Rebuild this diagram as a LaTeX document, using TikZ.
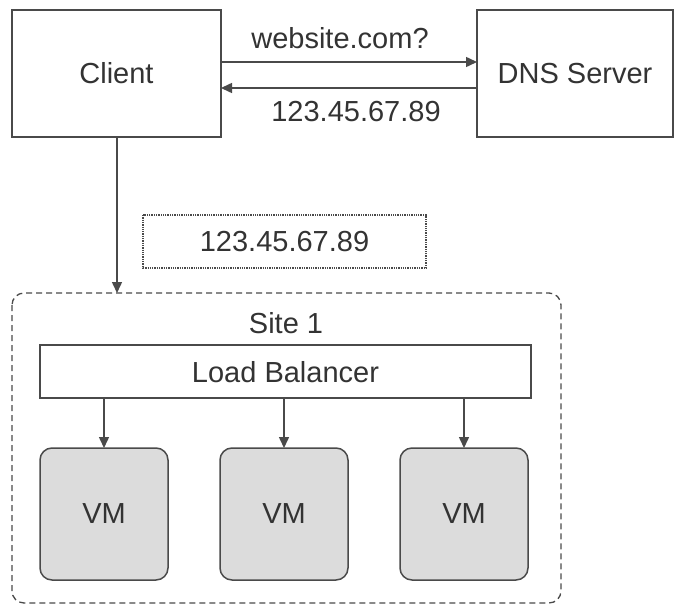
\documentclass[tikz,border=0pt]{standalone}
\usepackage{fontspec}
\setmainfont{Liberation Sans}
\usetikzlibrary{arrows.meta}
\definecolor{ln}{HTML}{4A4A4A}
\definecolor{tx}{HTML}{333333}
\definecolor{vmfill}{HTML}{DCDCDC}
\begin{document}
\begin{tikzpicture}[x=1pt,y=-1pt,
  every node/.style={font=\fontsize{29}{34}\selectfont, text=tx},
  box/.style={draw=ln, line width=1.5pt, fill=white},
  vmbox/.style={draw=ln, line width=1.5pt, fill=vmfill, rounded corners=12pt},
  conn/.style={draw=ln, line width=1.5pt, -{Triangle[length=11pt,width=10pt]}},
]
\useasboundingbox (0,0) rectangle (674,605);
% site
\draw[ln, line width=1.3pt, dashed, dash pattern=on 6pt off 4pt, rounded corners=12pt] (12,293) rectangle (561,603);
\node (site) at (286,323) {Site 1};
% boxes
\draw[box] (12,10) rectangle (221,137);
\node (client) at (116.5,73.5) {Client};
\draw[box] (477,10) rectangle (673,137);
\node (dns) at (575,73.5) {DNS Server};
% dotted box
\draw[ln, line width=1.3pt, densely dotted] (143,215) rectangle (426,268);
\node (ip2) at (284.5,242) {123.45.67.89};
% load balancer
\draw[box] (40,345) rectangle (531,398);
\node (lb) at (285.5,372) {Load Balancer};
% VMs
\draw[vmbox] (40,448) rectangle (168,580);
\node (vm1) at (104,514) {VM};
\draw[vmbox] (220,448) rectangle (348,580);
\node (vm2) at (284,514) {VM};
\draw[vmbox] (400,448) rectangle (528,580);
\node (vm3) at (464,514) {VM};
% connectors
\coordinate (c1a) at (221,62); \coordinate (c1b) at (477,62);
\coordinate (c2a) at (477,88); \coordinate (c2b) at (221,88);
\draw[conn] (c1a) -- (c1b);
\draw[conn] (c2a) -- (c2b);
\node (q) at (340,38) {website.com?};
\node (ans) at (356,112) {123.45.67.89};
\coordinate (cb) at (117,137); \coordinate (sitetop) at (117,293);
\draw[conn] (cb) -- (sitetop);
\foreach \x/\v in {104/vm1,284/vm2,464/vm3}{
  \coordinate (s\v) at (\x,398); \coordinate (e\v) at (\x,448);
  \draw[conn] (s\v) -- (e\v);
}
\end{tikzpicture}
\end{document}
